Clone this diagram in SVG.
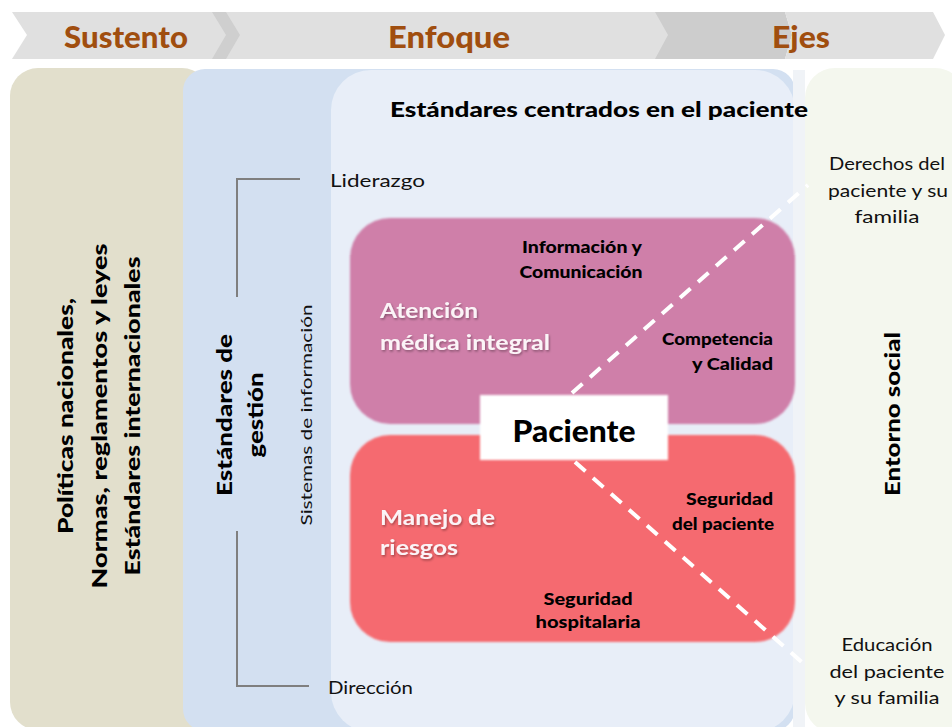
<svg xmlns="http://www.w3.org/2000/svg" width="952" height="727" viewBox="0 0 952 727">
<defs>
<filter id="soft" x="-5%" y="-5%" width="110%" height="110%"><feGaussianBlur stdDeviation="1.3"/></filter>
<filter id="shadow" x="-10%" y="-30%" width="120%" height="160%"><feDropShadow dx="1" dy="1.5" stdDeviation="1" flood-color="#000" flood-opacity="0.35"/></filter>
<style>
text{font-family:Lato,"Liberation Sans",sans-serif;}
.hdr{font-size:31px;font-weight:900;fill:#a04e0f;}
.b{font-weight:900;fill:#000;}
.r{font-weight:normal;fill:#111;}
.w{font-weight:bold;fill:#fbf4f7;filter:url(#shadow);}
.brk{fill:none;stroke:#7f7f7f;stroke-width:2;}
.dash{fill:none;stroke:#fff;stroke-width:4;stroke-dasharray:14 10;}
</style>
</defs>
<rect width="952" height="727" fill="#fff"/>

<g id="header">
<polygon points="650,12 785,12 792,35 785,59 650,59" fill="#cdcdcd"/>
<polygon points="212,12 655,12 668,35 655,59 212,59 226,35" fill="#e0e0e0"/>
<polygon points="785,12 933,12 945,35 933,59 785,59 792,35" fill="#e0e0e0"/>
<polygon points="12,12 226,12 240,35 226,59 12,59 27,35" fill="#e0e0e0"/>
<polygon points="212,12 226,12 240,35 226,59 212,59 226,35" fill="#cfcfcf"/>
<text class="hdr" x="64" y="48" textLength="124" lengthAdjust="spacingAndGlyphs">Sustento</text>
<text class="hdr" x="388" y="48" textLength="122" lengthAdjust="spacingAndGlyphs">Enfoque</text>
<text class="hdr" x="772" y="48" textLength="58" lengthAdjust="spacingAndGlyphs">Ejes</text>
</g>

<g id="sustento">
<rect x="10" y="68" width="200" height="662" rx="28" fill="#e2dfcc"/>
<g transform="translate(73,416) rotate(-90)"><text class="b" x="0" y="0" font-size="21" text-anchor="middle" textLength="236" lengthAdjust="spacingAndGlyphs">Políticas nacionales,</text></g>
<g transform="translate(107,416) rotate(-90)"><text class="b" x="0" y="0" font-size="21" text-anchor="middle" textLength="345" lengthAdjust="spacingAndGlyphs">Normas, reglamentos y leyes</text></g>
<g transform="translate(140,416) rotate(-90)"><text class="b" x="0" y="0" font-size="21" text-anchor="middle" textLength="319" lengthAdjust="spacingAndGlyphs">Estándares internacionales</text></g>
</g>

<g id="gestion">
<rect x="183" y="69" width="612" height="662" rx="22" fill="#d3e0f1"/>
<g transform="translate(232,415) rotate(-90)"><text class="b" x="0" y="0" font-size="21" text-anchor="middle" textLength="162" lengthAdjust="spacingAndGlyphs">Estándares de</text></g>
<g transform="translate(263,415) rotate(-90)"><text class="b" x="0" y="0" font-size="21" text-anchor="middle" textLength="85" lengthAdjust="spacingAndGlyphs">gestión</text></g>
<g transform="translate(312,415) rotate(-90)"><text class="r" x="0" y="0" font-size="16" text-anchor="middle" textLength="221" lengthAdjust="spacingAndGlyphs">Sistemas de información</text></g>
</g>

<g id="enfoque">
<rect x="331" y="70" width="464" height="662" rx="40" fill="#e8eef8"/>
<rect x="793" y="70" width="12" height="660" fill="#f0f3f7"/>
</g>

<g id="ejes">
<rect x="805" y="68" width="160" height="665" rx="30" fill="#f4f7ee"/>
<text class="r" font-size="17" text-anchor="middle"><tspan x="887" y="170" textLength="116" lengthAdjust="spacingAndGlyphs">Derechos del</tspan><tspan x="888" y="197" textLength="120" lengthAdjust="spacingAndGlyphs">paciente y su</tspan><tspan x="887" y="223" textLength="65" lengthAdjust="spacingAndGlyphs">familia</tspan></text>
<text class="r" font-size="17" text-anchor="middle"><tspan x="887" y="651" textLength="91" lengthAdjust="spacingAndGlyphs">Educación</tspan><tspan x="887" y="678" textLength="115" lengthAdjust="spacingAndGlyphs">del paciente</tspan><tspan x="887" y="704" textLength="105" lengthAdjust="spacingAndGlyphs">y su familia</tspan></text>
<g transform="translate(900,414) rotate(-90)"><text class="b" x="0" y="0" font-size="21" text-anchor="middle" textLength="164" lengthAdjust="spacingAndGlyphs">Entorno social</text></g>
</g>

<g id="labels">
<text class="b" x="390" y="117" font-size="21" textLength="418" lengthAdjust="spacingAndGlyphs">Estándares centrados en el paciente</text>
<text class="r" x="330" y="187" font-size="17" textLength="95" lengthAdjust="spacingAndGlyphs">Liderazgo</text>
<text class="r" x="328" y="694" font-size="17" textLength="85" lengthAdjust="spacingAndGlyphs">Dirección</text>
</g>

<g id="atencion">
<rect x="350" y="218" width="445" height="206" rx="40" fill="#cf7fa9" filter="url(#soft)"/>
<text class="w" font-size="21"><tspan x="380" y="318" textLength="98" lengthAdjust="spacingAndGlyphs">Atención</tspan><tspan x="380" y="350" textLength="170" lengthAdjust="spacingAndGlyphs">médica integral</tspan></text>
<text class="b" font-size="16" text-anchor="middle"><tspan x="582" y="253" textLength="120" lengthAdjust="spacingAndGlyphs">Información y</tspan><tspan x="581" y="278" textLength="123" lengthAdjust="spacingAndGlyphs">Comunicación</tspan></text>
<text class="b" font-size="16" text-anchor="end"><tspan x="773" y="345" textLength="111" lengthAdjust="spacingAndGlyphs">Competencia</tspan><tspan x="773" y="370" textLength="81" lengthAdjust="spacingAndGlyphs">y Calidad</tspan></text>
</g>

<g id="riesgos">
<rect x="350" y="435" width="445" height="207" rx="40" fill="#f56a70" filter="url(#soft)"/>
<text class="w" font-size="21"><tspan x="380" y="525" textLength="115" lengthAdjust="spacingAndGlyphs">Manejo de</tspan><tspan x="380" y="555" textLength="78" lengthAdjust="spacingAndGlyphs">riesgos</tspan></text>
<text class="b" font-size="16" text-anchor="end"><tspan x="773" y="505" textLength="87" lengthAdjust="spacingAndGlyphs">Seguridad</tspan><tspan x="774" y="530" textLength="102" lengthAdjust="spacingAndGlyphs">del paciente</tspan></text>
<text class="b" font-size="16" text-anchor="middle"><tspan x="588" y="605" textLength="89" lengthAdjust="spacingAndGlyphs">Seguridad</tspan><tspan x="588" y="628" textLength="105" lengthAdjust="spacingAndGlyphs">hospitalaria</tspan></text>
</g>

<g id="connectors">
<path class="brk" d="M300,179 H237 V297 M237,531 V686 H309"/>
<line class="dash" x1="572" y1="393" x2="808" y2="185"/>
<line class="dash" x1="575" y1="462" x2="805" y2="665"/>
</g>

<g id="paciente">
<rect x="480" y="395" width="188" height="65" fill="#fff" filter="url(#soft)"/>
<text class="b" x="574" y="442" font-size="30" text-anchor="middle" textLength="123" lengthAdjust="spacingAndGlyphs">Paciente</text>
</g>
</svg>
